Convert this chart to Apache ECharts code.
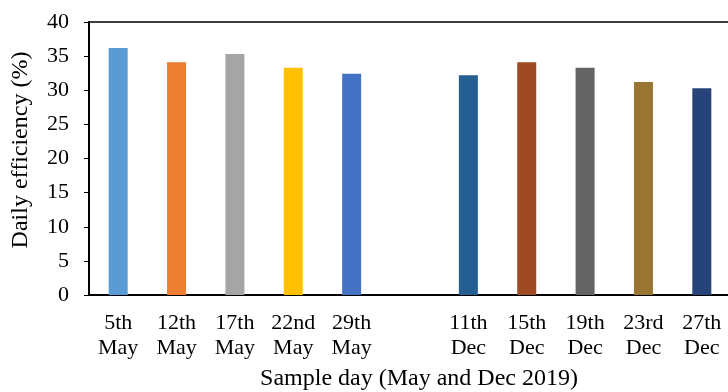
<!DOCTYPE html>
<html>
<head>
<meta charset="utf-8">
<script src="https://cdn.jsdelivr.net/npm/echarts@6/dist/echarts.min.js"></script>
<style>html,body{margin:0;padding:0;background:#fff;}#c{width:728px;height:392px;}</style>
</head>
<body>
<div id="c"></div>
<script>
var categories = ['5th\nMay', '12th\nMay', '17th\nMay', '22nd\nMay', '29th\nMay', '', '11th\nDec', '15th\nDec', '19th\nDec', '23rd\nDec', '27th\nDec'];
var efficiency = [36.2, 34.1, 35.3, 33.3, 32.4, null, 32.2, 34.1, 33.3, 31.2, 30.3];
var yTicks = [0, 5, 10, 15, 20, 25, 30, 35, 40];
var barColors = ['#5B9BD5', '#ED7D31', '#A5A5A5', '#FFC000', '#4472C4', '#FFFFFF', '#255E91', '#9E4A22', '#636463', '#987530', '#264478'];

var font = 'Liberation Serif';
var chart = echarts.init(document.getElementById('c'), null, {renderer: 'canvas'});
chart.setOption({
  animation: false,
  backgroundColor: '#fff',
  grid: {left: 89, top: 22, width: 642, bottom: 97, show: true, borderColor: '#000', borderWidth: 1.5, containLabel: false, outerBoundsMode: 'none'},
  xAxis: {
    type: 'category',
    data: categories,
    boundaryGap: true,
    name: 'Sample day (May and Dec 2019)',
    nameLocation: 'middle',
    nameGap: 72,
    nameTextStyle: {fontFamily: font, fontSize: 24, color: '#000', padding: [0, 0, 0, 18]},
    axisLine: {lineStyle: {color: '#000', width: 2}},
    axisTick: {inside: true, length: 5, lineStyle: {color: '#000', width: 1}},
    axisLabel: {interval: 0, margin: 16, fontFamily: font, fontSize: 22, lineHeight: 25, color: '#000'},
    splitLine: {show: false}
  },
  yAxis: {
    type: 'value',
    min: yTicks[0],
    max: yTicks[yTicks.length - 1],
    interval: yTicks[1] - yTicks[0],
    name: 'Daily efficiency (%)',
    nameLocation: 'middle',
    nameGap: 56,
    nameRotate: 90,
    nameTextStyle: {fontFamily: font, fontSize: 24, color: '#000', padding: [0, 0, 0, 17]},
    axisLine: {show: true, lineStyle: {color: '#000', width: 2}},
    axisTick: {show: true, inside: false, length: 5, lineStyle: {color: '#000', width: 1}},
    axisLabel: {margin: 20, fontFamily: font, fontSize: 22, color: '#000'},
    splitLine: {show: false}
  },
  series: [{
    type: 'bar',
    barWidth: 19,
    data: efficiency.map(function (v, i) {
      return {value: v, itemStyle: {color: barColors[i]}};
    })
  }]
});
</script>
</body>
</html>
